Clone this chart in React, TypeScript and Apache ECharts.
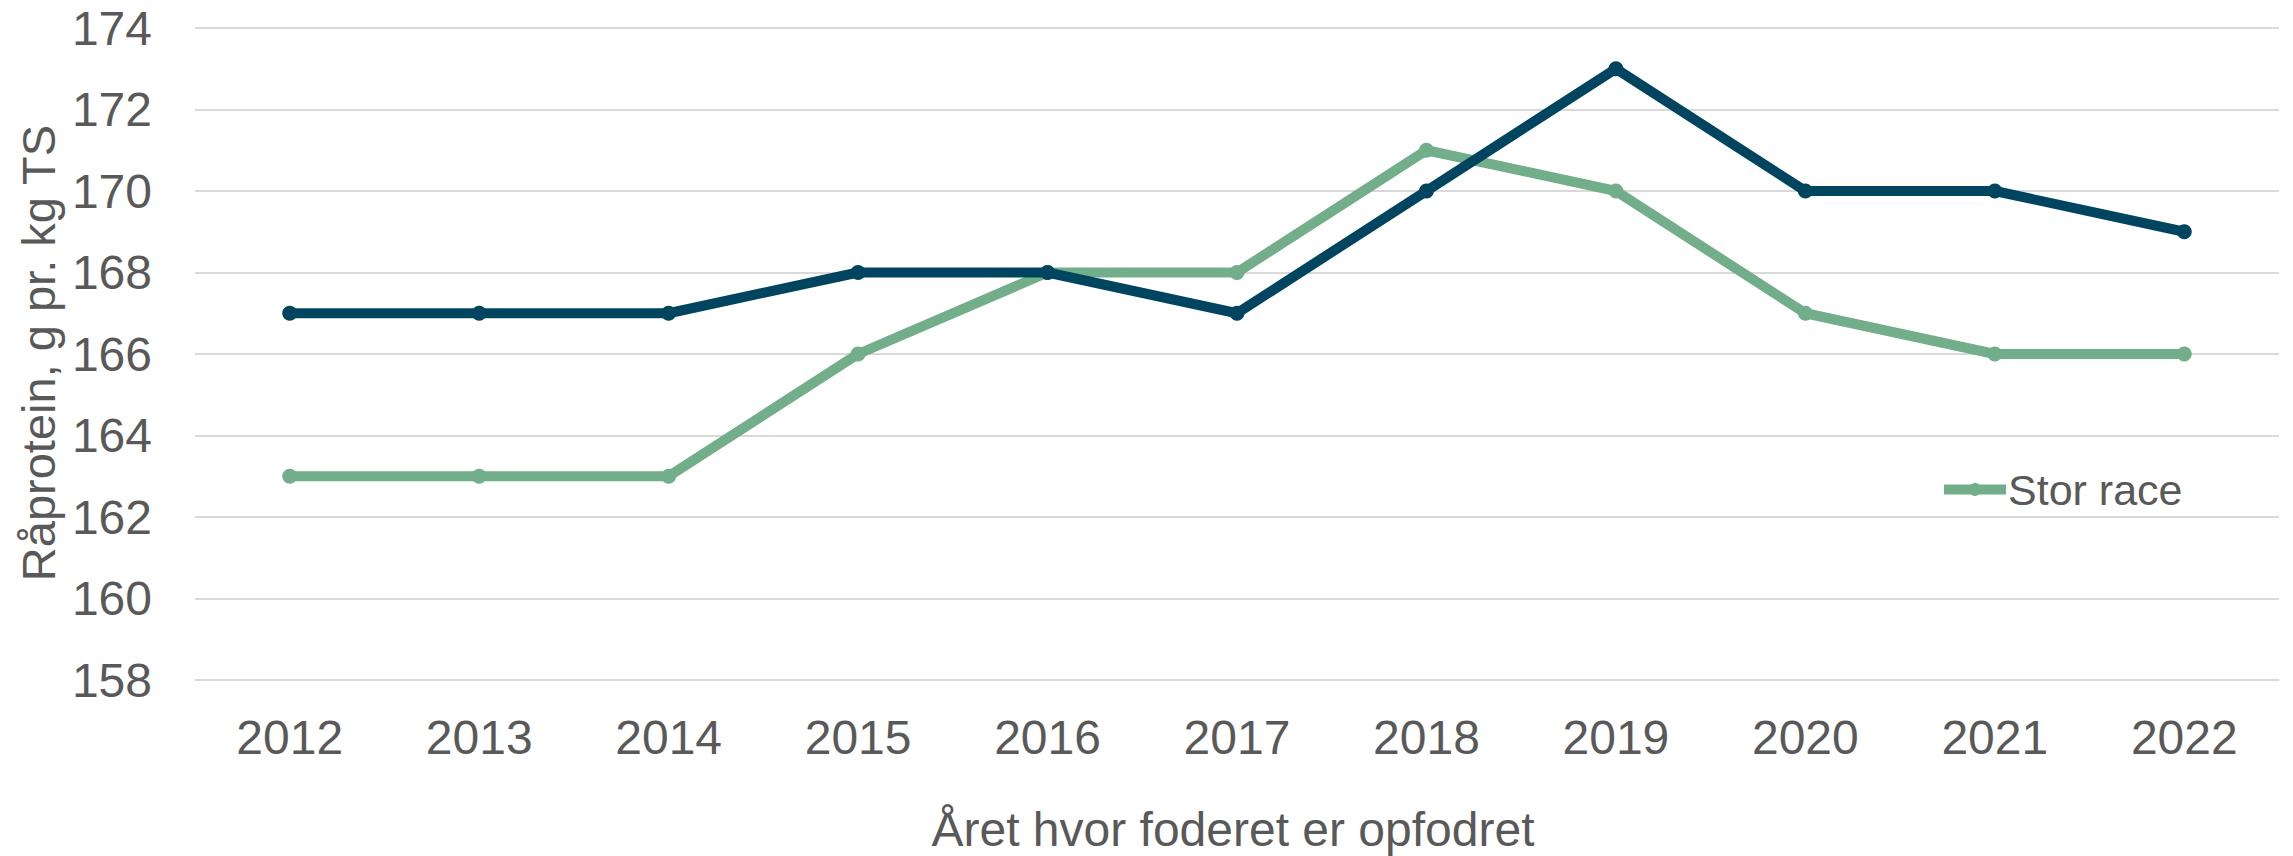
import React, { useEffect, useRef } from "react";
import * as echarts from "echarts";

const years = ["2012", "2013", "2014", "2015", "2016", "2017", "2018", "2019", "2020", "2021", "2022"];
const storRace = [163, 163, 163, 166, 168, 168, 171, 170, 167, 166, 166];
const jersey = [167, 167, 167, 168, 168, 167, 170, 173, 170, 170, 169];
const yMin = 158;
const yMax = 174;
const yStep = 2;
const yTitle = "Råprotein, g pr. kg TS";
const xTitle = "Året hvor foderet er opfodret";

const TEXT = "#595959";
const GREEN = "#71AE89";
const DARK = "#00455F";
const FONT = "'Liberation Sans', Arial, sans-serif";

export default function App() {
  const ref = useRef<HTMLDivElement>(null);
  useEffect(() => {
    document.body.style.margin = "0";
    const chart = echarts.init(ref.current!, null, { renderer: "svg" });
    chart.setOption({
      animation: false,
      backgroundColor: "#ffffff",
      textStyle: { fontFamily: FONT, color: TEXT },
      grid: { left: 195, right: 14, top: 28, bottom: 176, containLabel: false },
      legend: {
        data: ["Stor race"],
        left: 1934,
        top: 463,
        itemWidth: 62,
        itemHeight: 16,
        lineStyle: { width: 10 },
        textStyle: { fontSize: 43, color: TEXT, fontFamily: FONT, padding: [0, 0, 0, -3] },
      },
      xAxis: {
        type: "category",
        data: years,
        boundaryGap: true,
        axisLine: { show: false },
        axisTick: { show: false },
        axisLabel: { fontSize: 48, color: TEXT, margin: 33 },
      },
      yAxis: {
        type: "value",
        min: yMin,
        max: yMax,
        interval: yStep,
        axisLine: { show: false },
        axisTick: { show: false },
        axisLabel: { fontSize: 48, color: TEXT, margin: 43 },
        splitLine: { lineStyle: { color: "#D9D9D9", width: 2 } },
      },
      graphic: [
        {
          type: "text",
          x: 38,
          y: 353,
          rotation: Math.PI / 2,
          style: {
            text: yTitle,
            fill: TEXT,
            fontSize: 47,
            fontFamily: FONT,
            align: "center",
            verticalAlign: "middle",
          },
        },
        {
          type: "text",
          x: 1233,
          y: 829,
          style: {
            text: xTitle,
            fill: TEXT,
            fontSize: 48,
            fontFamily: FONT,
            align: "center",
            verticalAlign: "middle",
          },
        },
      ],
      series: [
        {
          name: "Stor race",
          type: "line",
          data: storRace,
          symbol: "circle",
          symbolSize: 15,
          lineStyle: { color: GREEN, width: 10 },
          itemStyle: { color: GREEN },
          z: 2,
        },
        {
          name: "Jersey",
          type: "line",
          data: jersey,
          symbol: "circle",
          symbolSize: 15,
          lineStyle: { color: DARK, width: 10 },
          itemStyle: { color: DARK },
          z: 3,
        },
      ],
    });
    return () => chart.dispose();
  }, []);
  return <div ref={ref} style={{ position: "fixed", left: 0, top: 0, width: 2293, height: 856 }} />;
}
